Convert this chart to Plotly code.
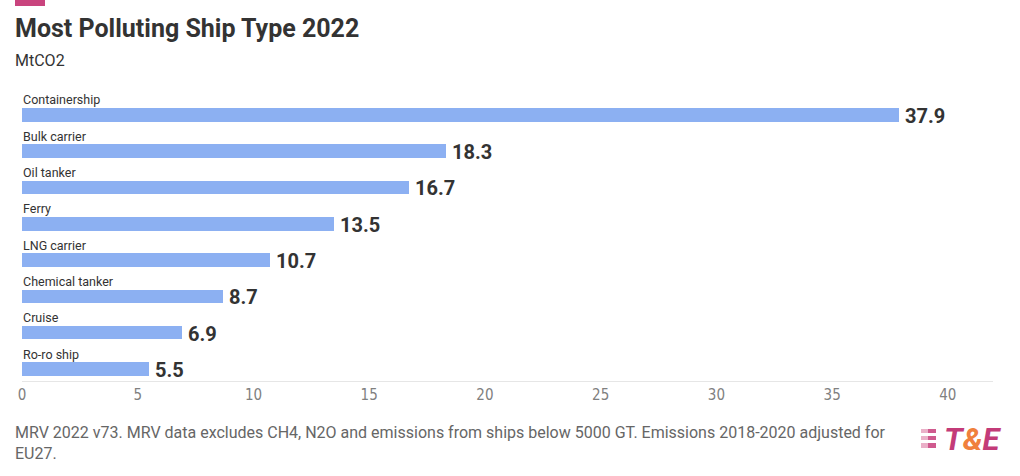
import plotly.graph_objects as go

categories = ["Containership", "Bulk carrier", "Oil tanker", "Ferry", "LNG carrier",
              "Chemical tanker", "Cruise", "Ro-ro ship"]
values = [37.9, 18.3, 16.7, 13.5, 10.7, 8.7, 6.9, 5.5]
x_ticks = [0, 5, 10, 15, 20, 25, 30, 35, 40]

n = len(categories)
ypos = [n - 1 - i for i in range(n)]

W, H = 1020, 476
ML, MR, MT, MB = 22, 27, 88, 95
PW = W - ML - MR
PH = H - MT - MB

def px(x):
    return (x - ML) / PW

def py(y):
    return (H - MB - y) / PH

fig = go.Figure()
fig.add_trace(go.Bar(
    x=values, y=ypos, orientation="h",
    marker=dict(color="#8cb0f2", line=dict(width=0)),
    width=0.37, hoverinfo="skip",
))

annotations = []
for c, v, y in zip(categories, values, ypos):
    annotations.append(dict(x=0, y=y, xref="x", yref="y", text=c, showarrow=False,
                            xanchor="left", yanchor="middle", yshift=15, xshift=-1,
                            font=dict(family="Roboto", size=12.5, color="#333333")))
    annotations.append(dict(x=v, y=y, xref="x", yref="y", text="<b>%.1f</b>" % v,
                            showarrow=False, xanchor="left", yanchor="middle", xshift=4, yshift=-1,
                            font=dict(family="Roboto", size=20, color="#333333")))

annotations += [
    dict(x=px(13), y=py(29), xref="paper", yref="paper", xanchor="left", yanchor="middle",
         text="<b>Most Polluting Ship Type 2022</b>", showarrow=False,
         font=dict(family="Roboto", size=25, color="#333333")),
    dict(x=px(13), y=py(61), xref="paper", yref="paper", xanchor="left", yanchor="middle",
         text="MtCO2", showarrow=False,
         font=dict(family="Roboto", size=16, color="#333333")),
    dict(x=px(13), y=py(443), xref="paper", yref="paper", xanchor="left", yanchor="middle",
         align="left",
         text="MRV 2022 v73. MRV data excludes CH4, N2O and emissions from ships below 5000 GT. Emissions 2018-2020 adjusted for<br>EU27.",
         showarrow=False, font=dict(family="Roboto", size=16, color="#666666")),
    dict(x=px(942), y=py(439), xref="paper", yref="paper", xanchor="left", yanchor="middle",
         text="<b><i><span style='color:#c33b78'>T</span><span style='color:#f0803c'>&amp;</span><span style='color:#c33b78'>E</span></i></b>",
         showarrow=False, font=dict(family="Roboto", size=31)),
]

shapes = [
    dict(type="rect", xref="paper", yref="paper", x0=px(15), x1=px(45), y0=py(0), y1=py(6),
         fillcolor="#c9447e", line=dict(width=0)),
]
for ya, yb in [(429, 433), (436, 440), (443, 448)]:
    shapes.append(dict(type="rect", xref="paper", yref="paper", x0=px(921), x1=px(928),
                       y0=py(yb), y1=py(ya), fillcolor="#eab0c8", line=dict(width=0)))
    shapes.append(dict(type="rect", xref="paper", yref="paper", x0=px(928), x1=px(936),
                       y0=py(yb), y1=py(ya), fillcolor="#cf5a8e", line=dict(width=0)))

fig.update_layout(
    width=W, height=H,
    margin=dict(l=ML, r=MR, t=MT, b=MB),
    paper_bgcolor="white", plot_bgcolor="white",
    showlegend=False,
    annotations=annotations, shapes=shapes,
    xaxis=dict(range=[0, 41.95], tickvals=x_ticks, showgrid=False, zeroline=False,
               showline=True, linecolor="#e6e6e6", linewidth=1,
               ticks="", tickfont=dict(family="Liberation Sans Narrow, DejaVu Sans Condensed, Roboto", size=15, color="#808080")),
    yaxis=dict(range=[-0.33, 7.74], showticklabels=False, showgrid=False, zeroline=False,
               showline=False, fixedrange=True),
    bargap=0,
)

fig.write_html("out.html", config={"displayModeBar": False},
               post_script="document.body.style.margin='0px';")
